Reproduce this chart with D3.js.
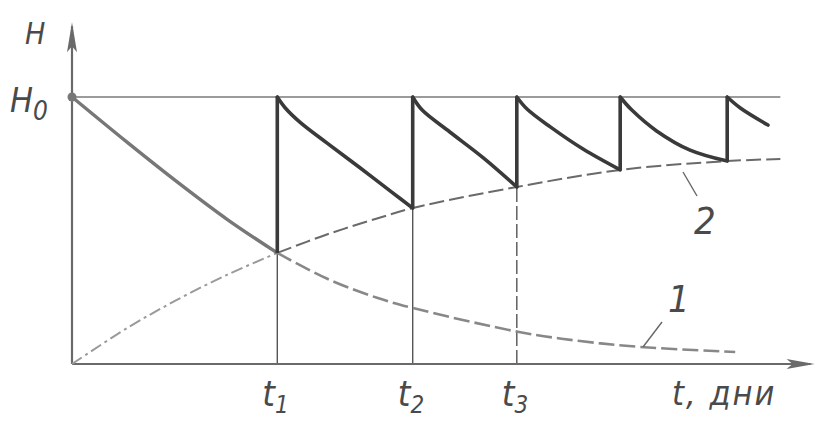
<!DOCTYPE html>
<html>
<head>
<meta charset="utf-8">
<script src="https://cdn.jsdelivr.net/npm/d3@7"></script>
<style>
  html, body { margin: 0; padding: 0; background: #fff; }
  svg { display: block; }
  text { font-family: "Liberation Sans Narrow", "DejaVu Sans Condensed", sans-serif; font-style: italic; fill: #4a4a4a; }
</style>
</head>
<body>
<svg id="chart" width="818" height="423"></svg>
<script>
// ---- data (x: time, arbitrary units; y: H as % of H0) ----
const tMarks = [28.2, 46.8, 61.1, 75.3, 90.0];          // watering moments t1..t5
const tLabels = ["1", "2", "3"];                         // subscripts of the labelled moments
const H0 = 100;

// curve 1: decay of H without watering
const curve1Solid = [[0,100],[7.6,83.0],[14.4,68.3],[21.3,54.2],[28.2,41.6]];
const curve1Dashed = [[28.2,41.6],[35.0,32.0],[41.9,24.8],[46.8,21.0],[61.4,12.0],[69.8,8.6],[78.0,6.4],[91.1,4.5]];

// curve 2: rising lower envelope
const curve2DashDot = [[0,0],[7.6,13.5],[14.4,24.0],[21.3,33.4],[28.2,41.6]];
const curve2Dashed = [[28.2,41.6],[35.0,48.5],[41.9,54.5],[46.8,58.4],[61.1,66.3],[75.3,72.7],[90.0,76.0],[97.3,76.8]];

// saw-tooth segments after each watering
const saw1 = [[28.2,100],[29.3,95.9],[31.3,90.6],[35.0,82.8],[39.6,73.4],[44.1,64.0],[46.8,58.4]];
const saw2 = [[46.8,100],[48.1,95.1],[51.9,86.9],[56.5,77.2],[61.1,66.3]];
const saw3 = [[61.1,100],[62.5,95.5],[65.7,88.8],[70.2,80.5],[75.3,72.7]];
const saw4 = [[75.3,100],[76.9,95.1],[80.3,87.3],[84.9,80.1],[90.0,76.0]];
const saw5 = [[90.0,100],[91.8,95.9],[95.6,89.5]];
const sawLows = [41.6, 58.4, 66.3, 72.7, 76.0];           // H just before each watering

const xMax = 102, h0End = 97.3, yTop = 128;

// ---- drawing ----
const svg = d3.select("#chart");
const x = d3.scaleLinear().domain([0, 100]).range([72, 800]);
const y = d3.scaleLinear().domain([0, 100]).range([364, 97]);
const line = d3.line().x(d => x(d[0])).y(d => y(d[1])).curve(d3.curveCatmullRom.alpha(0.5));

const axisCol = "#6a6a6a";

// H0 horizontal
svg.append("line").attr("x1", x(0)).attr("x2", x(h0End)).attr("y1", y(H0)).attr("y2", y(H0))
  .attr("stroke", "#7a7a7a").attr("stroke-width", 1.6);

// thin drop lines at t1, t2 (solid) and t3 (dashed)
tMarks.slice(0, 3).forEach((t, i) => {
  svg.append("line").attr("x1", x(t)).attr("x2", x(t)).attr("y1", y(0)).attr("y2", y(sawLows[i]))
    .attr("stroke", "#555").attr("stroke-width", 1.4)
    .attr("stroke-dasharray", i === 2 ? "14,4" : null);
});

// axes
svg.append("line").attr("x1", x(0)).attr("x2", x(0)).attr("y1", y(0)).attr("y2", y(yTop) + 4)
  .attr("stroke", axisCol).attr("stroke-width", 2.2);
svg.append("line").attr("x1", x(0)).attr("x2", x(xMax) - 4).attr("y1", y(0)).attr("y2", y(0))
  .attr("stroke", axisCol).attr("stroke-width", 2.2);
// arrowheads
svg.append("path")
  .attr("d", `M${x(0)},${y(yTop)} L${x(0)-5},${y(yTop)+30} L${x(0)},${y(yTop)+24} L${x(0)+5},${y(yTop)+30} Z`)
  .attr("fill", axisCol);
svg.append("path")
  .attr("d", `M${x(xMax)},${y(0)} L${x(xMax)-28},${y(0)-5} L${x(xMax)-22},${y(0)} L${x(xMax)-28},${y(0)+5} Z`)
  .attr("fill", axisCol);

// curve 2
svg.append("path").attr("d", line(curve2DashDot)).attr("fill", "none")
  .attr("stroke", "#9a9a9a").attr("stroke-width", 2).attr("stroke-dasharray", "12,4,3,4");
svg.append("path").attr("d", line(curve2Dashed)).attr("fill", "none")
  .attr("stroke", "#6a6a6a").attr("stroke-width", 2).attr("stroke-dasharray", "15,5");

// curve 1
svg.append("path").attr("d", line(curve1Solid)).attr("fill", "none")
  .attr("stroke", "#777").attr("stroke-width", 3.4);
svg.append("path").attr("d", line(curve1Dashed)).attr("fill", "none")
  .attr("stroke", "#888").attr("stroke-width", 2.6).attr("stroke-dasharray", "16,5");

// saw-tooth
[saw1, saw2, saw3, saw4, saw5].forEach(s => {
  svg.append("path").attr("d", line(s)).attr("fill", "none")
    .attr("stroke", "#3a3a3a").attr("stroke-width", 3.6).attr("stroke-linecap", "round");
});
tMarks.forEach((t, i) => {
  svg.append("line").attr("x1", x(t)).attr("x2", x(t)).attr("y1", y(sawLows[i])).attr("y2", y(H0))
    .attr("stroke", "#3a3a3a").attr("stroke-width", 3.6);
});

// H0 dot
svg.append("circle").attr("cx", x(0)).attr("cy", y(H0)).attr("r", 4.5).attr("fill", "#777");

// leaders
svg.append("line").attr("x1", 643).attr("y1", 347).attr("x2", 662).attr("y2", 322)
  .attr("stroke", "#666").attr("stroke-width", 1.4);
svg.append("line").attr("x1", 683).attr("y1", 172).attr("x2", 697).attr("y2", 196)
  .attr("stroke", "#666").attr("stroke-width", 1.4);

// labels
svg.append("text").attr("x", 25).attr("y", 44).attr("font-size", 30).text("H");
const h0 = svg.append("text").attr("x", 10).attr("y", 112).attr("font-size", 34);
h0.append("tspan").text("H");
h0.append("tspan").attr("font-size", 26).attr("dy", 8).text("0");

tMarks.slice(0, 3).forEach((t, i) => {
  const tx = svg.append("text").attr("x", x(t) - 15).attr("y", 406).attr("font-size", 36);
  tx.append("tspan").text("t");
  tx.append("tspan").attr("font-size", 24).attr("dy", 7).text(tLabels[i]);
});
svg.append("text").attr("x", 672).attr("y", 405).attr("font-size", 34).attr("letter-spacing", 2).text("t, дни");

svg.append("text").attr("x", 668).attr("y", 312).attr("font-size", 38).text("1");
svg.append("text").attr("x", 694).attr("y", 234).attr("font-size", 38).text("2");
</script>
</body>
</html>
